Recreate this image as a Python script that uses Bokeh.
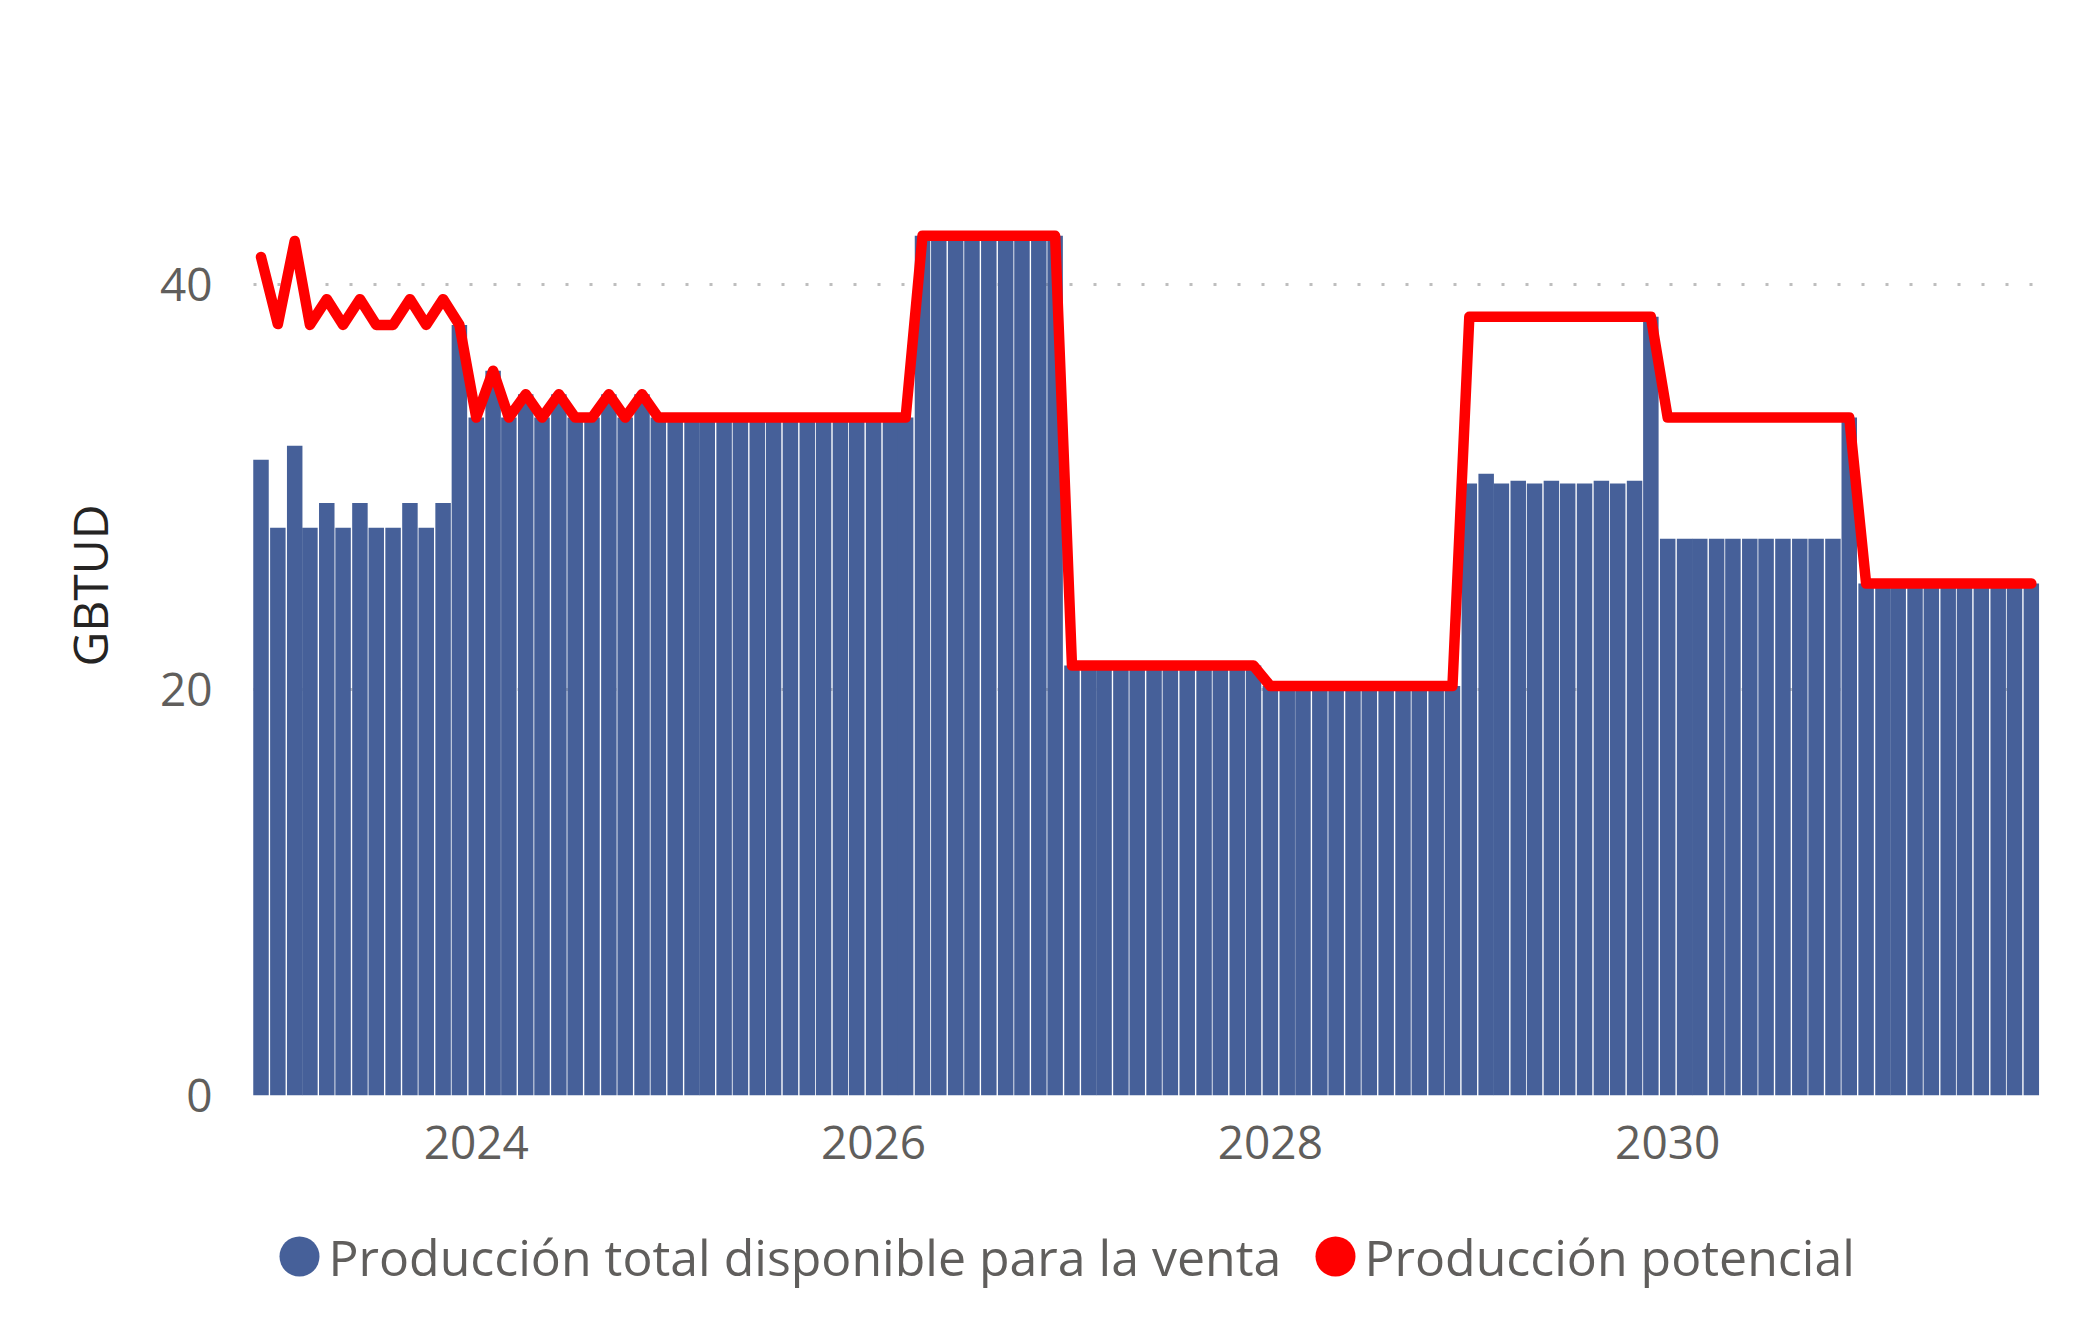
import pandas as pd
from bokeh.plotting import figure
from bokeh.models import Range1d, FixedTicker, DatetimeTickFormatter, ColumnDataSource
from bokeh.layouts import column
from bokeh.embed import file_html
from bokeh.resources import INLINE
from bokeh.core.properties import value

# ---------------- data ----------------
months = pd.date_range("2022-12-01", periods=108, freq="MS")

disponible = [
    31.35, 28.0, 32.04, 28.0, 29.22, 28.0, 29.22, 28.0, 28.0, 29.22, 28.0, 29.22,
    38.0, 33.43, 35.74, 33.43, 34.58, 33.43, 34.58, 33.43, 33.43, 34.58, 33.43, 34.58,
    33.43, 33.43, 33.43, 33.43, 33.43, 33.43, 33.43, 33.43, 33.43, 33.43, 33.43, 33.43,
    33.43, 33.43, 33.43, 33.43, 42.4, 42.4, 42.4, 42.4, 42.4, 42.4, 42.4, 42.4,
    42.4, 21.2, 21.2, 21.2, 21.2, 21.2, 21.2, 21.2, 21.2, 21.2, 21.2, 21.2,
    21.2, 20.19, 20.19, 20.19, 20.19, 20.19, 20.19, 20.19, 20.19, 20.19, 20.19, 20.19,
    20.19, 30.18, 30.66, 30.18, 30.31, 30.18, 30.31, 30.18, 30.18, 30.31, 30.18, 30.31,
    38.4, 27.45, 27.45, 27.45, 27.45, 27.45, 27.45, 27.45, 27.45, 27.45, 27.45, 27.45,
    33.43, 25.25, 25.25, 25.25, 25.25, 25.25, 25.25, 25.25, 25.25, 25.25, 25.25, 25.25,
]

potencial = [
    41.35, 38.04, 42.14, 38.0, 39.27, 38.0, 39.27, 38.0, 38.0, 39.27, 38.0, 39.27,
    38.0, 33.43, 35.74, 33.43, 34.58, 33.43, 34.58, 33.43, 33.43, 34.58, 33.43, 34.58,
    33.43, 33.43, 33.43, 33.43, 33.43, 33.43, 33.43, 33.43, 33.43, 33.43, 33.43, 33.43,
    33.43, 33.43, 33.43, 33.43, 42.4, 42.4, 42.4, 42.4, 42.4, 42.4, 42.4, 42.4,
    42.4, 21.2, 21.2, 21.2, 21.2, 21.2, 21.2, 21.2, 21.2, 21.2, 21.2, 21.2,
    21.2, 20.19, 20.19, 20.19, 20.19, 20.19, 20.19, 20.19, 20.19, 20.19, 20.19, 20.19,
    20.19, 38.4, 38.4, 38.4, 38.4, 38.4, 38.4, 38.4, 38.4, 38.4, 38.4, 38.4,
    38.4, 33.43, 33.43, 33.43, 33.43, 33.43, 33.43, 33.43, 33.43, 33.43, 33.43, 33.43,
    33.43, 25.25, 25.25, 25.25, 25.25, 25.25, 25.25, 25.25, 25.25, 25.25, 25.25, 25.25,
]

tick_years = [2024, 2026, 2028, 2030]
y_ticks = [0, 20, 40]
series_names = ["Producción total disponible para la venta", "Producción potencial"]
y_label = "GBTUD"

# ---------------- style ----------------
BAR = "#466099"
RED = "#FF0000"
FONT = "Open Sans"
TICK_COLOR = "#605E5C"
W = 2084
LEFT, RIGHT = 248, 45

src = ColumnDataSource(dict(date=months, disp=disponible, pot=potencial))

p = figure(
    width=W, height=1198, x_axis_type="datetime",
    x_range=Range1d(pd.Timestamp("2022-11-08"), pd.Timestamp("2031-11-16")),
    y_range=Range1d(0, 50.3),
    output_backend="svg", toolbar_location=None,
    min_border_left=LEFT, min_border_right=RIGHT, min_border_top=75, min_border_bottom=103,
)

bar_w = 28.5 * 24 * 3600 * 1000
p.vbar(x="date", top="disp", width=bar_w, source=src, fill_color=BAR, line_color=None)
p.line(x="date", y="pot", source=src, line_color=RED, line_width=10.5,
       line_join="round", line_cap="round")

p.outline_line_color = None
p.xgrid.visible = False
p.ygrid.grid_line_color = "#BEBEBE"
p.ygrid.grid_line_width = 3
p.ygrid.grid_line_dash = "3 21"
p.ygrid.grid_line_dash_offset = 19

p.yaxis.ticker = FixedTicker(ticks=y_ticks)
p.xaxis.ticker = FixedTicker(ticks=[pd.Timestamp(f"{y}-01-01").value // 10**6 for y in tick_years])
p.xaxis.formatter = DatetimeTickFormatter(years="%Y", months="%Y", days="%Y", hours="%Y",
                                          minutes="%Y", seconds="%Y", milliseconds="%Y",
                                          microseconds="%Y", minsec="%Y", hourmin="%Y")

for ax in (p.xaxis[0], p.yaxis[0]):
    ax.axis_line_color = None
    ax.major_tick_line_color = None
    ax.minor_tick_line_color = None
    ax.major_tick_in = 0
    ax.major_tick_out = 0
    ax.major_label_text_font = FONT
    ax.major_label_text_font_size = "46px"
    ax.major_label_text_color = TICK_COLOR

p.yaxis.major_label_standoff = 36
p.xaxis.major_label_standoff = 30
p.yaxis.axis_label = y_label
p.yaxis.axis_label_text_font = FONT
p.yaxis.axis_label_text_font_size = "48px"
p.yaxis.axis_label_text_font_style = "normal"
p.yaxis.axis_label_text_color = "#252423"
p.yaxis.axis_label_standoff = 35

# ---------------- legend row ----------------
LEG_H = 105
leg = figure(width=W, height=LEG_H,
             x_range=Range1d(LEFT, W - RIGHT), y_range=Range1d(0, LEG_H),
             x_axis_location=None, y_axis_location=None,
             output_backend="svg", toolbar_location=None,
             min_border_left=LEFT, min_border_right=RIGHT, min_border_top=0, min_border_bottom=0)
leg.grid.visible = False
leg.outline_line_color = None
leg_src = ColumnDataSource(dict(
    name=series_names, color=[BAR, RED],
    mx=[299, 1335], tx=[328, 1364], y=[47, 47],
))
leg.scatter(x="mx", y="y", size=40, fill_color="color", line_color=None, source=leg_src)
leg.text(x="tx", y="y", text="name", source=leg_src, text_font=value(FONT),
         text_font_size="50px", text_color=TICK_COLOR, text_baseline="middle", text_align="left")

layout = column(p, leg, spacing=0)
open("out.html", "w").write(file_html(layout, INLINE))
